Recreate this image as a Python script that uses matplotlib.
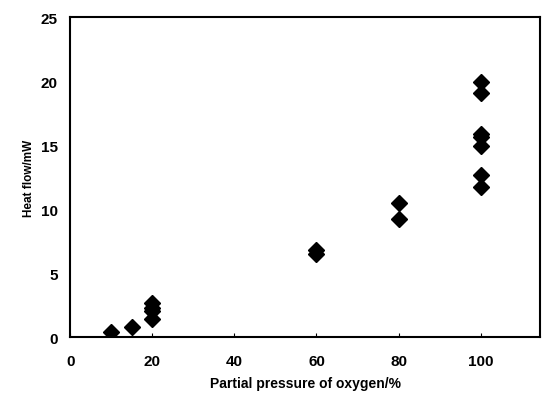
import matplotlib.pyplot as plt

# oxygen partial pressure (%) and measured heat flow (mW)
oxygen = [10, 15, 20, 20, 20, 20, 60, 60, 80, 80,
          100, 100, 100, 100, 100, 100, 100]
heat_flow = [0.4, 0.8, 1.4, 2.0, 2.3, 2.7, 6.5, 6.8, 9.2, 10.5,
             11.7, 12.7, 14.9, 15.6, 15.9, 19.1, 19.9]

x_ticks = [0, 20, 40, 60, 80, 100]
y_ticks = [0, 5, 10, 15, 20, 25]

plt.rcParams['font.family'] = ['Liberation Sans', 'DejaVu Sans']

fig = plt.figure(figsize=(5.44, 4.02), dpi=100)
ax = fig.add_axes([0.129, 0.159, 0.864, 0.796])

ax.plot(oxygen, heat_flow, linestyle='none', marker='D', markersize=8.5,
        color='black')

ax.set_xlim(0, 114.5)
ax.set_ylim(0, 25)
ax.set_xticks(x_ticks)
ax.set_yticks(y_ticks)
ax.tick_params(axis='x', direction='in', length=3, pad=12, labelsize=11)
ax.tick_params(axis='y', length=0, pad=9, labelsize=11)
for lbl in ax.get_xticklabels() + ax.get_yticklabels():
    lbl.set_fontweight('bold')

for s in ax.spines.values():
    s.set_linewidth(1.5)

ax.set_xlabel("Partial pressure of oxygen/%", fontsize=10, fontweight='bold',
              labelpad=6)
ax.set_ylabel("Heat flow/mW", fontsize=8.5, fontweight='bold', labelpad=4)

plt.savefig("out.png", dpi=100)
